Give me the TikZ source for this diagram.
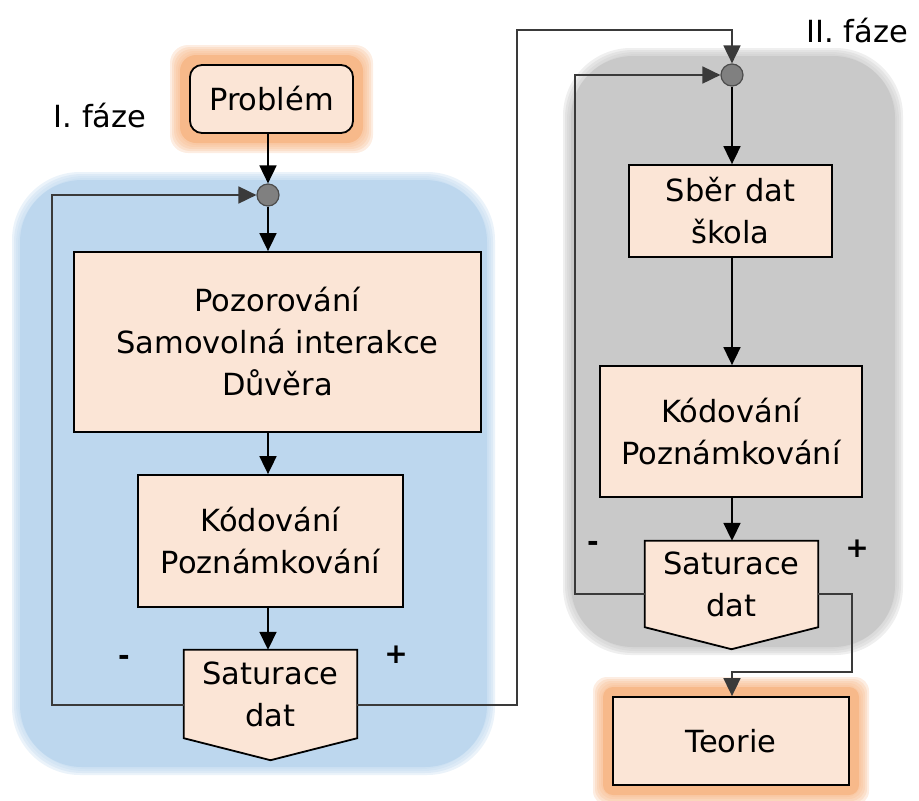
\documentclass[tikz,border=0pt]{standalone}
\usepackage{fontspec}
\setmainfont{DejaVu Sans}
\usetikzlibrary{arrows.meta,calc}
\pgfdeclarelayer{bg}
\pgfsetlayers{bg,main}
\definecolor{peach}{HTML}{FBE5D6}
\definecolor{phaseblue}{HTML}{BDD7EE}
\definecolor{phasegray}{HTML}{C9C9C9}
\definecolor{glow}{HTML}{F7B98A}
\definecolor{wire}{HTML}{3A3A3A}
\tikzset{
  txt/.style={font=\fontsize{30.5}{42}\selectfont, align=center, text=black},
  box/.style={txt, draw=black, line width=1.8pt, fill=peach, inner sep=0pt},
  plain/.style={txt, inner sep=0pt},
  junction/.style={circle, draw=black!70, line width=1.2pt, fill=black!50, minimum size=22pt, inner sep=0pt},
  arr/.style={draw=black, line width=1.8pt, -{Triangle[length=18pt,width=17pt]}},
  fb/.style={draw=wire, line width=1.8pt, -{Triangle[length=18pt,width=17pt]}},
  sign/.style={font=\fontsize{28}{30}\selectfont\bfseries, inner sep=0pt},
}
\begin{document}
\begin{tikzpicture}[x=1pt,y=-1pt]
\useasboundingbox (0,0) rectangle (919,801);

% phase backgrounds with soft edges
\begin{pgfonlayer}{bg}
  \foreach \d in {0,2,4,6}{
    \fill[phaseblue, opacity=0.3, rounded corners=68pt] (12+\d,172+\d) rectangle (495-\d,775-\d);
    \fill[phasegray, opacity=0.3, rounded corners=68pt] (563+\d,48+\d) rectangle (903-\d,655-\d);
  }
  \fill[phaseblue, rounded corners=62pt] (20,180) rectangle (487,767);
  \fill[phasegray, rounded corners=62pt] (571,56) rectangle (895,647);
  % orange glow round the start and end boxes: soft rim, then a solid band
  \foreach \d in {20,18,...,12}{
    \fill[glow, opacity=0.25, rounded corners=18pt] (190-\d,65-\d) rectangle (353+\d,133+\d);
    \fill[glow, opacity=0.25, rounded corners=14pt] (613-\d,697-\d) rectangle (849+\d,785+\d);
  }
  \fill[glow, rounded corners=16pt] (180,55) rectangle (363,143);
  \fill[glow, rounded corners=10pt] (603,687) rectangle (859,795);
\end{pgfonlayer}

% phase I
\node[plain, anchor=center] (f1) at (100,116) {I. fáze};
\node[box, rounded corners=12pt, minimum width=163pt, minimum height=68pt] (prob) at (271.5,99) {Problém};
\node[junction] (j1) at (268,195) {};
\node[box, minimum width=407pt, minimum height=180pt] (poz) at (277.5,342) {Pozorování\\Samovolná interakce\\Důvěra};
\node[box, minimum width=265pt, minimum height=132pt] (kod1) at (270.5,541) {Kódování\\Poznámkování};
\node[plain, minimum width=173pt, minimum height=88pt] (sat1) at (270.5,694) {Saturace\\dat};
\begin{pgfonlayer}{bg}
  \filldraw[fill=peach, draw=black, line width=1.8pt, line join=miter]
    (sat1.north west) -- (sat1.north east) -- (sat1.south east)
    -- ($(sat1.south)+(0,22)$) -- (sat1.south west) -- cycle;
\end{pgfonlayer}
\node[sign] (m1) at (124,660) {-};
\node[sign] (p1) at (396,655) {+};

% phase II
\node[plain, anchor=west] (f2) at (806,31) {II. fáze};
\node[junction] (j2) at (732,75) {};
\node[box, minimum width=203pt, minimum height=92pt] (sber) at (730.5,211) {Sběr dat\\škola};
\node[box, minimum width=262pt, minimum height=131pt] (kod2) at (731,431.5) {Kódování\\Poznámkování};
\node[plain, minimum width=173pt, minimum height=86pt] (sat2) at (731.5,584) {Saturace\\dat};
\begin{pgfonlayer}{bg}
  \filldraw[fill=peach, draw=black, line width=1.8pt, line join=miter]
    (sat2.north west) -- (sat2.north east) -- (sat2.south east)
    -- ($(sat2.south)+(0,22)$) -- (sat2.south west) -- cycle;
\end{pgfonlayer}
\node[sign] (m2) at (593,546) {-};
\node[sign] (p2) at (857,549) {+};
\node[box, minimum width=236pt, minimum height=88pt] (teo) at (731,741) {Teorie};

% turning points of the loops
\coordinate (l1) at (52,705);
\coordinate (r1) at (517,30);
\coordinate (l2) at (575,594);
\coordinate (r2) at (852,672);

% main flow, kept on the junctions' vertical lines
\draw[arr] (prob.south -| j1) -- (j1.north);
\draw[arr] (j1.south) -- (j1.south |- poz.north);
\draw[arr] (poz.south -| j1) -- (kod1.north -| j1);
\draw[arr] (kod1.south -| j1) -- (sat1.north -| j1);
\draw[fb] ([yshift=-11pt]sat1.west) -- (l1) |- (j1.west);
\draw[fb] ([yshift=-11pt]sat1.east) -| (r1) -| (j2.north);
\draw[arr] (j2.south) -- (j2.south |- sber.north);
\draw[arr] (sber.south -| j2) -- (kod2.north -| j2);
\draw[arr] (kod2.south -| j2) -- (sat2.north -| j2);
\draw[fb] ([yshift=-10pt]sat2.west) -- (l2) |- (j2.west);
\draw[fb] ([yshift=-10pt]sat2.east) -| (r2) -| (teo.north -| j2);
\end{tikzpicture}
\end{document}
